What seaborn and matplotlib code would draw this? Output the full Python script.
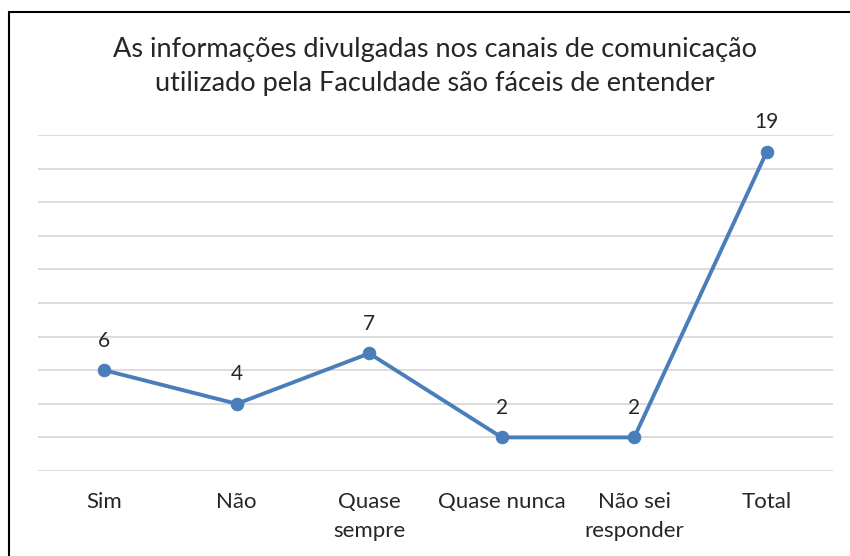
import numpy as np
import pandas as pd
import matplotlib.pyplot as plt
import seaborn as sns
from matplotlib.patches import Rectangle

# dados
categorias = ['Sim', 'Não', 'Quase\nsempre', 'Quase nunca', 'Não sei\nresponder', 'Total']
valores = [6, 4, 7, 2, 2, 19]

df = pd.DataFrame({'pos': np.arange(len(categorias)), 'valor': valores})

sns.set_style('white')
plt.rcParams['font.family'] = ['Lato', 'DejaVu Sans']

fig = plt.figure(figsize=(8.5, 5.56), dpi=100)
ax = fig.add_axes([38 / 850, 1 - 471 / 556, (833 - 38) / 850, (471 - 135) / 556])

cor = '#4A7EBB'
sns.lineplot(data=df, x='pos', y='valor', ax=ax, color=cor, linewidth=2.8,
             marker='o', markersize=9, markeredgecolor=cor)

for x, v in zip(df['pos'], df['valor']):
    ax.annotate(str(v), (x, v), xytext=(0, 14), textcoords='offset points',
                ha='center', va='bottom', fontsize=15, color='#262626')

ax.set_xlim(-0.5, len(categorias) - 0.5)
ax.set_ylim(0, 20)
ax.set_yticks(np.arange(0, 21, 2))
ax.set_yticklabels([])
ax.set_xticks(df['pos'])
ax.set_xticklabels(categorias, fontsize=16, color='#262626', linespacing=1.56)
ax.tick_params(axis='both', length=0, pad=15)
ax.grid(axis='y', color='#d9d9d9', linewidth=1.3)
ax.set_axisbelow(True)
for s in ax.spines.values():
    s.set_visible(False)
ax.set_xlabel('')
ax.set_ylabel('')

fig.text(435 / 850, 1 - 66.5 / 556,
         'As informações divulgadas nos canais de comunicação\nutilizado pela Faculdade são fáceis de entender',
         ha='center', va='center', fontsize=19.5, color='#262626', linespacing=1.45)

fig.patches.append(Rectangle((8.5 / 850, -0.1), 1.2, 1 - 11.5 / 556 + 0.1,
                             transform=fig.transFigure, fill=False,
                             edgecolor='black', linewidth=1.5))

fig.savefig('out.png', dpi=100)
